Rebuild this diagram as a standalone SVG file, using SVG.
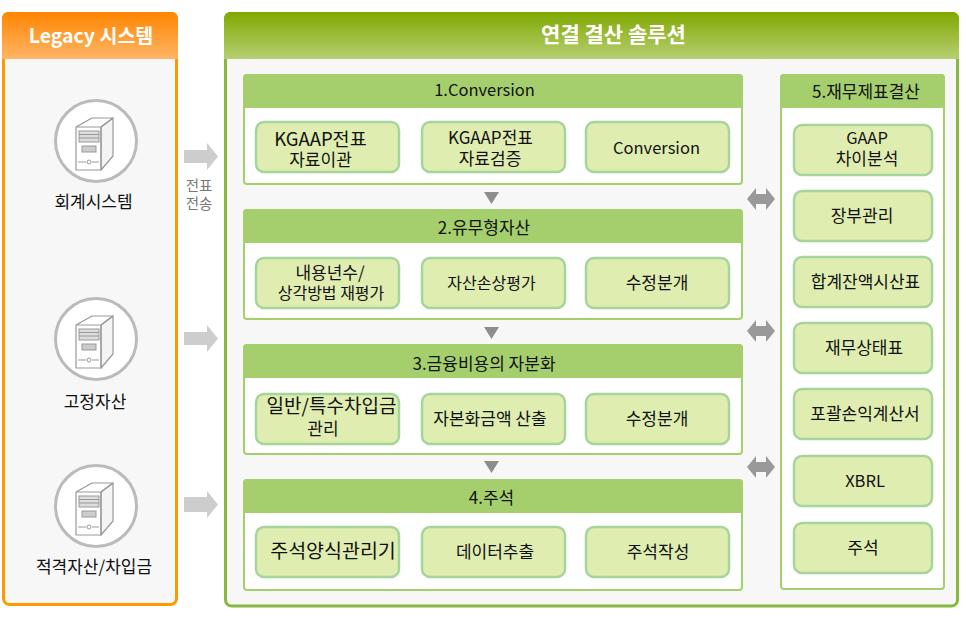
<svg xmlns="http://www.w3.org/2000/svg" xmlns:xlink="http://www.w3.org/1999/xlink" width="966" height="617" viewBox="0 0 966 617">
<style>
text{font-family:"Noto Sans CJK KR","Noto Sans",sans-serif;text-anchor:middle;fill:#111;font-size:17px}
.lat{font-size:16.500px}
.panel{fill:#f7f7f8;stroke-width:3}
.sec{fill:#fff;stroke:#a5cf6d;stroke-width:2}
.hdr{fill:#a5cf6d}
.box{fill:#e0edb0;stroke:#a5d59a;stroke-width:2.5}
.tri{fill:#a5cf6d}
.dn{fill:#8d8d8d}
.big{fill:#cdcdcd}
.dbl{fill:#999}
.title{fill:#fff;font-weight:700}
.side{fill:#777;font-size:14.500px}
.ic{fill:none;stroke:#999;stroke-width:1.2;stroke-linejoin:round}
</style>
<defs>
<linearGradient id="og" x1="0" y1="0" x2="0" y2="1"><stop offset="0" stop-color="#ff8500"/><stop offset="1" stop-color="#ffb566"/></linearGradient>
<linearGradient id="gg" x1="0" y1="0" x2="0" y2="1"><stop offset="0" stop-color="#80a800"/><stop offset="1" stop-color="#b7cf72"/></linearGradient>
<g id="srv">
<circle cx="0" cy="0" r="40.500" fill="#fff" stroke="#bbb" stroke-width="3"/>
<path d="M5-14L17-23V15L5 29Z" fill="#f4f4f4" stroke="#999" stroke-width="1.200" stroke-linejoin="round"/>
<path class="ic" d="M-20-14V29H5V-14ZM-20-14L-4-23H17L5-14"/>
<rect x="-17" y="-10" width="20" height="11" fill="#ddd" stroke="#999" stroke-width="1"/>
<path class="ic" d="M-17-6.500H3M-17-3H3"/>
<rect x="-14" y="5" width="14" height="6" fill="#ccc" stroke="#999"/>
<circle cx="-7" cy="21" r="2" fill="none" stroke="#999"/>
<path class="ic" d="M-18 21H-10M-4 21H3"/>
</g>
</defs>

<g id="legacy">
<rect class="panel" x="3.500" y="13.500" width="173" height="591" rx="6" stroke="#ff9900"/>
<path d="M2 18a6 6 0 0 1 6-6H172a6 6 0 0 1 6 6V59H2Z" fill="url(#og)"/>
<text class="title" x="91" y="43" style="font-size:19.500px">Legacy 시스템</text>
</g>
<g id="solution">
<rect class="panel" x="225.500" y="13.500" width="732" height="592.500" rx="6" stroke="#88b83e"/>
<path d="M224 18a6 6 0 0 1 6-6H953a6 6 0 0 1 6 6V59H224Z" fill="url(#gg)"/>
<text class="title" x="613.500" y="42" style="font-size:21px">연결 결산 솔루션</text>
</g>

<g id="acc"><use xlink:href="#srv" x="96" y="141"/><text x="93.500" y="208">회계시스템</text></g>
<g id="fixed"><use xlink:href="#srv" x="96" y="339"/><text x="95" y="408">고정자산</text></g>
<g id="qual"><use xlink:href="#srv" x="96" y="506"/><text x="94" y="573">적격자산/차입금</text></g>

<g id="connectors">
<path class="big" d="M184 150H207V143L218 156.500L207 170V163H184Z"/>
<path class="big" d="M184 332H207V325L218 338.500L207 352V345H184Z"/>
<path class="big" d="M184 497H207V491L218 504.500L207 518V512H184Z"/>
<path class="dn" d="M484 192H499L491.500 204Z"/>
<path class="dn" d="M484 327H499L491.500 339Z"/>
<path class="dn" d="M484 461H499L491.500 473Z"/>
<path class="dbl" d="M747 199L756 188V194H766V188L775 199L766 210V204H756V210Z"/>
<path class="dbl" d="M747 331L756 320V326H766V320L775 331L766 342V336H756V342Z"/>
<path class="dbl" d="M747 467L756 456V462H766V456L775 467L766 478V472H756V478Z"/>
<path class="tri" d="M407 143L416 149L407 155Z"/>
<path class="tri" d="M571 143L580 149L571 155Z"/>
<path class="tri" d="M407 277L416 283L407 289Z"/>
<path class="tri" d="M571 277L580 283L571 289Z"/>
<path class="tri" d="M407 411L416 417L407 423Z"/>
<path class="tri" d="M571 411L580 417L571 423Z"/>
<path class="tri" d="M407 549L416 555L407 561Z"/>
<path class="tri" d="M571 549L580 555L571 561Z"/>
</g>
<text class="side" x="199" y="191">전표</text>
<text class="side" x="199" y="209">전송</text>

<g id="s1">
<rect class="sec" x="244" y="75" width="498" height="109" rx="3"/>
<path class="hdr" d="M243 78a4 4 0 0 1 4-4H739a4 4 0 0 1 4 4V108H243Z"/>
<text class="lat" x="484.500" y="96">1.Conversion</text>
<g id="n11"><rect class="box" x="256" y="122" width="143" height="50" rx="8"/><text style="font-size:18.500px" x="320.500" y="146">KGAAP전표</text><text x="320.500" y="166">자료이관</text></g>
<g id="n12"><rect class="box" x="422" y="122" width="143" height="50" rx="8"/><text x="490.500" y="144">KGAAP전표</text><text x="490" y="165">자료검증</text></g>
<g id="n13"><rect class="box" x="586" y="122" width="143" height="50" rx="8"/><text class="lat" x="656.500" y="154">Conversion</text></g>
</g>
<g id="s2">
<rect class="sec" x="244" y="210" width="498" height="109" rx="3"/>
<path class="hdr" d="M243 213a4 4 0 0 1 4-4H739a4 4 0 0 1 4 4V243H243Z"/>
<text x="484" y="234">2.유무형자산</text>
<g id="n21"><rect class="box" x="256" y="258" width="143" height="50" rx="8"/><text x="330" y="279">내용년수/</text><text style="font-size:16px" x="331" y="299">상각방법 재평가</text></g>
<g id="n22"><rect class="box" x="422" y="258" width="143" height="50" rx="8"/><text style="font-size:16px" x="491.500" y="289">자산손상평가</text></g>
<g id="n23"><rect class="box" x="586" y="258" width="143" height="50" rx="8"/><text x="657" y="289">수정분개</text></g>
</g>
<g id="s3">
<rect class="sec" x="244" y="345" width="498" height="109" rx="3"/>
<path class="hdr" d="M243 348a4 4 0 0 1 4-4H739a4 4 0 0 1 4 4V378H243Z"/>
<text x="484" y="370">3.금융비용의 자분화</text>
<g id="n31"><rect class="box" x="256" y="394" width="143" height="50" rx="8"/><text style="font-size:19px" x="331.500" y="413">일반/특수차입금</text><text x="323" y="435">관리</text></g>
<g id="n32"><rect class="box" x="422" y="394" width="143" height="50" rx="8"/><text x="490" y="425">자본화금액 산출</text></g>
<g id="n33"><rect class="box" x="586" y="394" width="143" height="50" rx="8"/><text x="657" y="425">수정분개</text></g>
</g>
<g id="s4">
<rect class="sec" x="244" y="480" width="498" height="110" rx="3"/>
<path class="hdr" d="M243 483a4 4 0 0 1 4-4H739a4 4 0 0 1 4 4V513H243Z"/>
<text x="491.500" y="504">4.주석</text>
<g id="n41"><rect class="box" x="256" y="527" width="143" height="50" rx="8"/><text style="font-size:19.500px" x="333" y="558">주석양식관리기</text></g>
<g id="n42"><rect class="box" x="422" y="527" width="143" height="50" rx="8"/><text x="495" y="558">데이터추출</text></g>
<g id="n43"><rect class="box" x="586" y="527" width="143" height="50" rx="8"/><text x="658" y="558">주석작성</text></g>
</g>
<g id="s5">
<rect class="sec" x="781" y="75" width="163" height="514" rx="3"/>
<path class="hdr" d="M780 78a4 4 0 0 1 4-4H941a4 4 0 0 1 4 4V108H780Z"/>
<text x="866" y="98">5.재무제표결산</text>
<g id="n51"><rect class="box" x="794" y="125" width="138" height="50" rx="8"/><text class="lat" x="867" y="144">GAAP</text><text x="867" y="165">차이분석</text></g>
<g id="n52"><rect class="box" x="794" y="191" width="138" height="50" rx="8"/><text x="862" y="222">장부관리</text></g>
<g id="n53"><rect class="box" x="794" y="257" width="138" height="50" rx="8"/><text x="865.500" y="288">합계잔액시산표</text></g>
<g id="n54"><rect class="box" x="794" y="323" width="138" height="50" rx="8"/><text x="864" y="354">재무상태표</text></g>
<g id="n55"><rect class="box" x="794" y="389" width="138" height="50" rx="8"/><text x="865" y="420">포괄손익계산서</text></g>
<g id="n56"><rect class="box" x="794" y="456" width="138" height="50" rx="8"/><text class="lat" x="865" y="487">XBRL</text></g>
<g id="n57"><rect class="box" x="794" y="523" width="138" height="50" rx="8"/><text x="863" y="554">주석</text></g>
</g>
</svg>
